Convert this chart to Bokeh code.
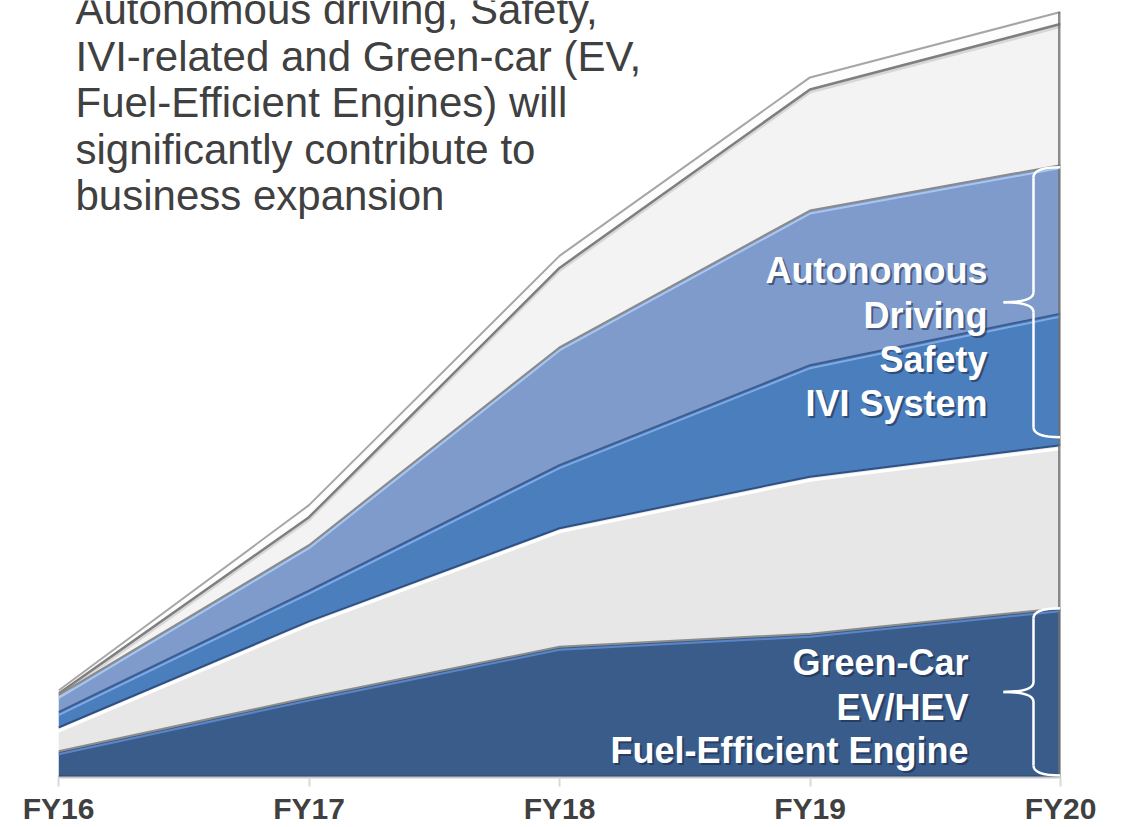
import numpy as np
from bokeh.plotting import figure
from bokeh.models import Range1d, FixedTicker
from bokeh.core.properties import value
from bokeh.embed import file_html
from bokeh.resources import INLINE

# ---------------- data ----------------
years = ["FY16", "FY17", "FY18", "FY19", "FY20"]
green_car = [3.4, 10.4, 17.0, 18.7, 22.0]          # Green-Car / EV/HEV / Fuel-Efficient Engine
conventional = [3.1, 9.9, 15.4, 20.4, 21.2]        # light grey band
ivi_system = [2.0, 4.0, 8.2, 14.5, 17.1]           # IVI system (medium blue)
autonomous_safety = [2.2, 5.9, 15.3, 20.1, 19.3]   # Autonomous driving / Safety (light blue)
others = [0.6, 5.2, 11.9, 17.3, 19.9]              # top grey band

paragraph = [
    "Autonomous driving, Safety,",
    "IVI-related and Green-car (EV,",
    "Fuel-Efficient Engines) will",
    "significantly contribute to",
    "business expansion",
]
upper_label = ["Autonomous", "Driving", "Safety", "IVI System"]
lower_label = ["Green-Car", "EV/HEV", "Fuel-Efficient Engine"]

# ---------------- geometry helpers ----------------
Y_TOP = 101.0
BASE_SCREEN = 777.0
PPU_Y = BASE_SCREEN / Y_TOP   # frame pixels per value unit
LEFT_SCREEN = 58.0
PPU_X = (1060.0 - 58.0) / 4   # frame pixels per year


def dy(px):
    return px / PPU_Y


def sy(screen_y):
    return (BASE_SCREEN - np.asarray(screen_y, dtype=float)) / PPU_Y


def sx(screen_x):
    return (np.asarray(screen_x, dtype=float) - LEFT_SCREEN) / PPU_X


x = np.arange(len(years), dtype=float)
t1 = np.array(green_car)
t2 = t1 + np.array(conventional)
t3 = t2 + np.array(ivi_system)
t4 = t3 + np.array(autonomous_safety)
t5 = t4 + np.array(others)
zero = np.zeros_like(x)

p = figure(width=1124, height=827, x_range=Range1d(0, 4), y_range=Range1d(0, Y_TOP),
           output_backend="svg", toolbar_location=None, y_axis_location=None,
           title=None, min_border_left=58, min_border_right=64,
           min_border_top=0, min_border_bottom=0)
p.outline_line_color = None
p.grid.visible = False
p.background_fill_color = "white"
p.border_fill_color = "white"

# ---------------- bands ----------------
p.varea(x=x, y1=zero, y2=t1, fill_color="#3A5C8B")
p.varea(x=x, y1=t1, y2=t2, fill_color="#E7E7E7")
p.varea(x=x, y1=t2, y2=t3, fill_color="#4B7EBC")
p.varea(x=x, y1=t3, y2=t4, fill_color="#7E9BCC")
p.varea(x=x, y1=t4, y2=t5, fill_color="#F3F3F3")

# top bevel rim
rim_bot = np.maximum(t5 - dy(12), t4 + dy(1.5))
p.varea(x=x, y1=rim_bot, y2=t5, fill_color="#FDFDFD")
p.line(x, t5, line_color="#A6A6A6", line_width=2)
p.line(x, rim_bot - dy(2.5), line_color="#D0D0D0", line_width=3, line_alpha=0.8)
p.line(x, rim_bot, line_color="#7F7F7F", line_width=2.5)

# boundary: top grey / light blue
p.line(x, t4, line_color="#8A8A8A", line_width=2)
p.line(x, t4 - dy(3), line_color="#A9C6F0", line_width=2)
# boundary: light blue / medium blue
p.line(x, t3, line_color="#3E5D8E", line_width=2)
p.line(x, t3 - dy(3), line_color="#7EAAE6", line_width=2)
# boundary: medium blue / grey
p.line(x, t2, line_color="#2F5085", line_width=2)
p.line(x, t2 - dy(3.5), line_color="#FFFFFF", line_width=3)
# boundary: grey / dark blue
p.line(x, t1, line_color="#8C8C8C", line_width=2)
p.line(x, t1 - dy(3), line_color="#5B86C6", line_width=2)
# bottom edge of dark blue
p.line(x, zero + dy(1), line_color="#2B4570", line_width=2)

# right edge shadow
p.line([x[-1], x[-1]], [0, t5[-1]], line_color="#707070", line_width=5, line_alpha=0.8)


# ---------------- braces ----------------
def brace(y_lo, y_hi):
    xe = x[-1]
    xs = xe - 27 / PPU_X
    xt = xe - 57 / PPU_X
    ym = (y_lo + y_hi) / 2
    r = dy(10)
    kw = dict(line_color="white", line_width=2.5)
    p.quadratic(x0=[xe, xs, xt, xs], y0=[y_hi, ym + r, ym, y_lo + r],
                x1=[xs, xt, xs, xe], y1=[y_hi - r, ym, ym - r, y_lo],
                cx=[xs, xs, xs, xs], cy=[y_hi, ym, ym, y_lo], **kw)
    p.segment(x0=[xs, xs], y0=[y_hi - r, ym - r], x1=[xs, xs], y1=[ym + r, y_lo + r], **kw)


brace(t2[-1] + dy(8), t4[-1] - dy(2))
brace(zero[-1] + dy(2), t1[-1])

# ---------------- texts ----------------
font = value("Liberation Sans")
# (the svg text anchor lands about 0.36 em above the visible baseline)
para_base = np.array([24, 71, 117, 164, 210]) - 0.36 * 42
p.text(x=[sx(75)] * len(paragraph), y=sy(para_base), text=paragraph,
       text_font=font, text_font_size="42px", text_color="#404040",
       text_align="left", text_baseline="alphabetic")


def white_label(lines, right_x, baselines):
    xx = [sx(right_x)] * len(lines)
    yy = sy(np.asarray(baselines, dtype=float) - 0.36 * 36)
    common = dict(text_font=font, text_font_size="36px", text_font_style="bold",
                  text_align="right", text_baseline="alphabetic")
    p.text(x=xx, y=yy, text=lines, text_color="#15243F", text_alpha=0.55,
           x_offset=2, y_offset=2, **common)
    p.text(x=xx, y=yy, text=lines, text_color="white", **common)


white_label(upper_label, 987, [283, 328, 372, 416])
white_label(lower_label, 968, [675, 720, 763])

# ---------------- axis ----------------
ax = p.xaxis[0]
ax.ticker = FixedTicker(ticks=list(x))
ax.major_label_overrides = {i: yname for i, yname in enumerate(years)}
ax.major_label_text_font = "Liberation Sans"
ax.major_label_text_font_style = "bold"
ax.major_label_text_font_size = "30px"
ax.major_label_text_color = "#404040"
ax.major_label_standoff = 5
ax.axis_line_color = "#C8C8C8"
ax.axis_line_width = 2
ax.major_tick_line_color = "#D9D9D9"
ax.major_tick_line_width = 2
ax.major_tick_in = 0
ax.major_tick_out = 9
ax.minor_tick_line_color = None

open("out.html", "w").write(file_html(p, INLINE))
